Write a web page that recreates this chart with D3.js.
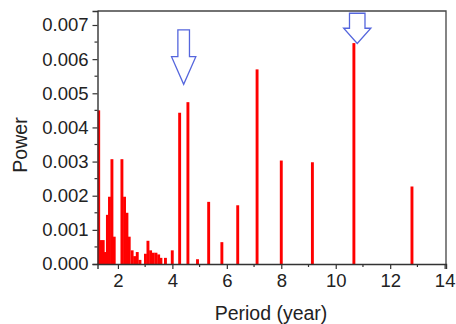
<!DOCTYPE html>
<html><head><meta charset="utf-8">
<script src="https://cdn.jsdelivr.net/npm/d3@7"></script>
<style>
html,body{margin:0;padding:0;background:#fff;}
svg{display:block;font-family:"Liberation Sans",Arial,sans-serif;}
</style></head><body>
<svg id="chart" width="456" height="324"></svg>
<script>
// Periods (years) and spectral power
const periods = [1.294, 1.375, 1.46, 1.52, 1.614, 1.69, 1.78, 1.864,
  2.147, 2.243, 2.331, 2.415, 2.522, 2.614, 2.71, 2.809, 3.011, 3.103, 3.2, 3.298, 3.397, 3.496, 3.58, 3.746, 3.996,
  4.267, 4.571, 4.923, 5.333, 5.818, 6.4, 7.111, 8.0, 9.143, 10.667, 12.8];
const power = [0.0045, 0.0007, 0.0007, 0.00035, 0.00144, 0.00197, 0.00307, 0.0008,
  0.00307, 0.00197, 0.0015, 0.0008, 0.0004, 0.00023, 0.00035, 0.00012, 0.0003, 0.00068, 0.0004, 0.00033, 0.00033, 0.00028, 0.00018, 0.00018, 0.0004,
  0.00443, 0.00474, 0.00014, 0.00182, 0.00064, 0.00172, 0.0057, 0.00303, 0.00298, 0.00647, 0.00227];
const xTicks = [2, 4, 6, 8, 10, 12, 14];
const yTicks = [0, 0.001, 0.002, 0.003, 0.004, 0.005, 0.006, 0.007];
// Annotation arrows: tip position in data units
const arrowTips = [{period: 4.415, power: 0.005264}, {period: 10.79, power: 0.00646}];

const W = 456, H = 324;
const m = {left: 97.5, right: 10, top: 11, bottom: 60};
const svg = d3.select("#chart");
const x = d3.scaleLinear().domain([1.25, 14.05]).range([m.left, W - m.right]);
const y = d3.scaleLinear().domain([0, 0.00741]).range([H - m.bottom, m.top]);

svg.append("defs").append("clipPath").attr("id", "clip")
  .append("rect").attr("x", m.left).attr("y", m.top)
  .attr("width", W - m.right - m.left).attr("height", H - m.bottom - m.top);

const barW = 2.9;
svg.append("g").attr("clip-path", "url(#clip)")
  .selectAll("rect").data(periods).join("rect")
  .attr("x", d => x(d) - barW / 2)
  .attr("y", (d, i) => y(power[i]))
  .attr("width", barW)
  .attr("height", (d, i) => y(0) - y(power[i]))
  .attr("fill", "#ff0000");

const axisColor = "#333";
const textColor = "#222";
// frame (top + right)
svg.append("path")
  .attr("d", `M${m.left},${m.top}H${W - m.right}V${H - m.bottom}`)
  .attr("fill", "none").attr("stroke", "#444").attr("stroke-width", 1.3);

// x axis
const xMinor = d3.range(3, 14, 2);
const gx = svg.append("g").attr("transform", `translate(0,${H - m.bottom})`);
gx.call(d3.axisBottom(x).tickValues(xTicks).tickSize(5).tickPadding(5).tickFormat(d3.format("d")));
gx.append("g").selectAll("line").data(xMinor).join("line")
  .attr("x1", d => x(d)).attr("x2", d => x(d)).attr("y1", 0).attr("y2", 3)
  .attr("stroke", axisColor).attr("stroke-width", 1.2);

// y axis
const yMinor = d3.range(0.0005, 0.0074, 0.001);
const gy = svg.append("g").attr("transform", `translate(${m.left},0)`);
gy.call(d3.axisLeft(y).tickValues(yTicks).tickSize(5).tickPadding(4).tickFormat(d3.format(".3f")));
gy.append("g").selectAll("line").data(yMinor).join("line")
  .attr("y1", d => y(d)).attr("y2", d => y(d)).attr("x1", 0).attr("x2", -3)
  .attr("stroke", axisColor).attr("stroke-width", 1.2);

[gx, gy].forEach(g => {
  g.select(".domain").attr("stroke", axisColor).attr("stroke-width", 1.4);
  g.selectAll(".tick line").attr("stroke", axisColor).attr("stroke-width", 1.2);
  g.selectAll(".tick text").attr("fill", textColor).attr("font-size", 18.5)
    .attr("font-family", "Liberation Sans, Arial, sans-serif");
});

// axis titles
svg.append("text").attr("x", 271).attr("y", 320)
  .attr("text-anchor", "middle").attr("fill", textColor).attr("font-size", 19.5)
  .text("Period (year)");
svg.append("text").attr("transform", `translate(27,145) rotate(-90)`)
  .attr("text-anchor", "middle").attr("fill", textColor).attr("font-size", 19.5)
  .text("Power");

// arrows (block arrows pointing down), shape dims in px
const arrowShapes = [
  {len: 54.3, headLen: 27.6, headW: 24.3, shaftW: 11.6},
  {len: 30.2, headLen: 15.2, headW: 27.2, shaftW: 15.5}
];
arrowTips.forEach((t, i) => {
  const s = arrowShapes[i];
  const tx = x(t.period), ty = y(t.power);
  const top = ty - s.len, hy = ty - s.headLen;
  const p = [[tx - s.shaftW / 2, top], [tx + s.shaftW / 2, top], [tx + s.shaftW / 2, hy],
    [tx + s.headW / 2, hy], [tx, ty], [tx - s.headW / 2, hy], [tx - s.shaftW / 2, hy]];
  svg.append("path").attr("d", d3.line()(p) + "Z")
    .attr("fill", "#fff").attr("stroke", "#5566dd").attr("stroke-width", 1.3)
    .attr("stroke-linejoin", "miter");
});
</script>
</body></html>
